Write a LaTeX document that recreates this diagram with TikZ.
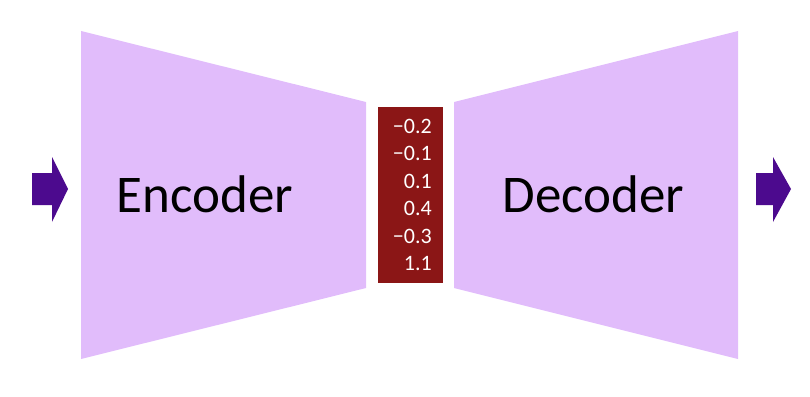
\documentclass[tikz,border=0pt]{standalone}
\usepackage{fontspec}
\setmainfont{Carlito}
\definecolor{lilac}{HTML}{E1BCFB}
\definecolor{codered}{HTML}{8B1616}
\definecolor{arrowpurple}{HTML}{4C0A8E}
\begin{document}
\begin{tikzpicture}[x=1pt,y=-1pt, line join=round,
  bigtext/.style={font=\fontsize{53}{60}\selectfont, inner sep=0pt, anchor=base},
  codetext/.style={font=\fontsize{22}{27.5}\selectfont, text=white, align=right, inner sep=0pt}]
		\useasboundingbox (0,0) rectangle (810,396);
		% encoder and decoder
		\fill[lilac] (81,31)--(366,102)--(366,288)--(81,359)--cycle (738,31)--(454,102)--(454,288)--(738,359)--cycle;
		% input and output arrows
		\fill[arrowpurple] (32,173)--(52,173)--(52,157)--(68,189)--(52,222)--(52,205)--(32,205)--cycle (756,173)--(773,173)--(773,157)--(791,189)--(773,222)--(773,205)--(756,205)--cycle;
		% latent code
		\fill[codered] (378,107) rectangle (443,283);
		\node[bigtext] (enc) at (205,212) {Encoder};
		\node[bigtext] (dec) at (593.5,212) {Decoder};
		\node[codetext, anchor=east] (code) at (432,195) {−0.2\\−0.1\\0.1\\0.4\\−0.3\\1.1};
\end{tikzpicture}
\end{document}
